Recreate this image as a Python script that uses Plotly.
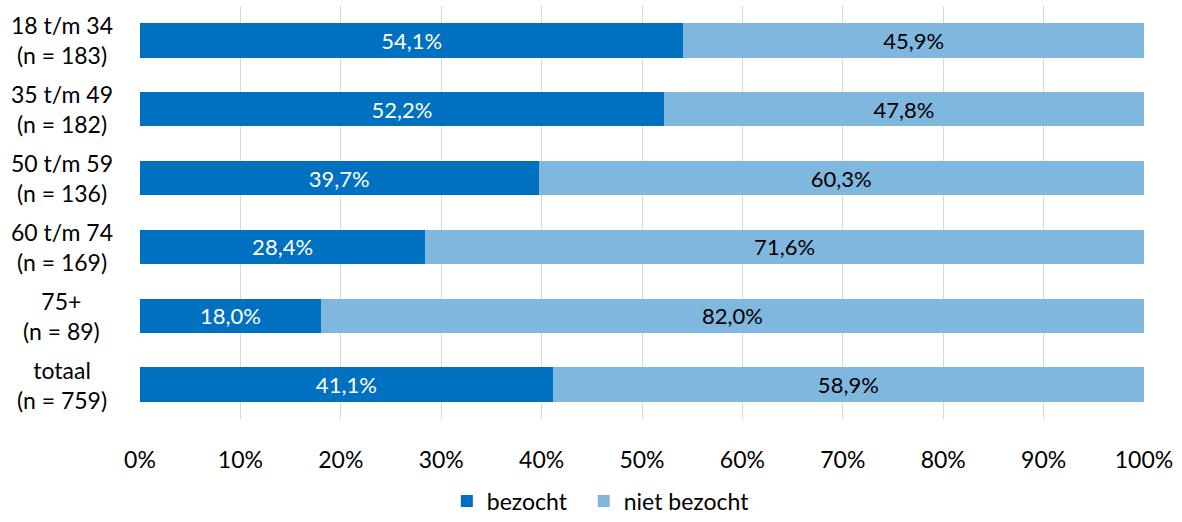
import plotly.graph_objects as go

categories = ["18 t/m 34<br>(n = 183)", "35 t/m 49<br>(n = 182)", "50 t/m 59<br>(n = 136)",
              "60 t/m 74<br>(n = 169)", "75+<br>(n = 89)", "totaal<br>(n = 759)"]
bezocht = [54.1, 52.2, 39.7, 28.4, 18.0, 41.1]
niet_bezocht = [45.9, 47.8, 60.3, 71.6, 82.0, 58.9]
tick_vals = [0, 10, 20, 30, 40, 50, 60, 70, 80, 90, 100]
tick_text = ["0%", "10%", "20%", "30%", "40%", "50%", "60%", "70%", "80%", "90%", "100%"]

FONT = "Lato, Carlito, Calibri, sans-serif"

fig = go.Figure()
fig.add_trace(go.Bar(
    y=categories, x=bezocht, name="bezocht\u00a0\u00a0", orientation="h",
    marker=dict(color="#0070C0", line=dict(width=0)),
    texttemplate="%{x:.1f}%", textposition="inside", insidetextanchor="middle",
    textfont=dict(color="white", size=22, family=FONT), textangle=0,
))
fig.add_trace(go.Bar(
    y=categories, x=niet_bezocht, name="niet bezocht", orientation="h",
    marker=dict(color="#7FB7DE", line=dict(width=0)),
    texttemplate="%{x:.1f}%", textposition="inside", insidetextanchor="middle",
    textfont=dict(color="black", size=22, family=FONT), textangle=0,
))

for c in categories:
    fig.add_annotation(x=-0.0777, xref="paper", y=c, yref="y", text=c,
                       showarrow=False, xanchor="center", yanchor="middle",
                       align="center", font=dict(size=23, color="black", family=FONT))

fig.update_layout(
    barmode="stack", bargap=0.5, separators=",.",
    width=1182, height=522,
    margin=dict(l=140, r=38, t=6, b=103, autoexpand=False),
    plot_bgcolor="white", paper_bgcolor="white",
    font=dict(family=FONT, size=23, color="black"),
    showlegend=True,
    legend=dict(orientation="h", x=0.459, xanchor="center",
                yref="container", y=0.04, yanchor="middle",
                font=dict(size=23, family=FONT), traceorder="normal"),
    xaxis=dict(range=[0, 100], tickmode="array", tickvals=tick_vals, ticktext=tick_text,
               showgrid=True, gridcolor="#D9D9D9", gridwidth=1, zeroline=False, showline=False,
               ticklabelstandoff=25, tickfont=dict(size=23, family=FONT)),
    yaxis=dict(autorange="reversed", showticklabels=False, showgrid=False, zeroline=False,
               showline=False, categoryorder="array", categoryarray=categories),
    uniformtext=dict(minsize=22, mode="show"),
)

fig.write_html("out.html", config={"displayModeBar": False},
               post_script="document.body.style.margin='0px';")
